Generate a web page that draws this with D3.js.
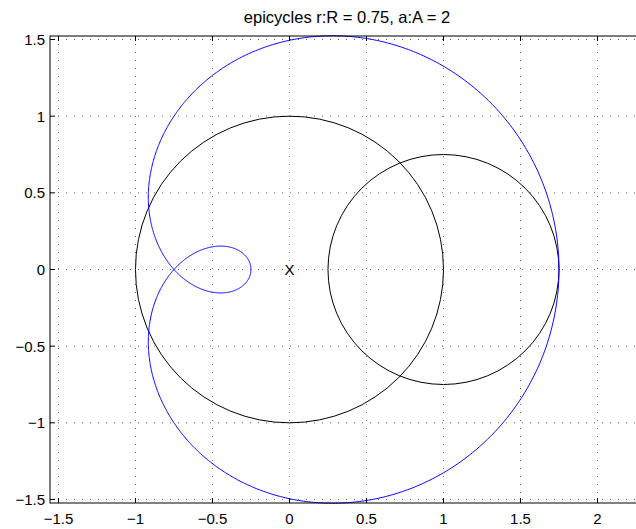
<!DOCTYPE html>
<html>
<head>
<meta charset="utf-8">
<script src="https://cdn.jsdelivr.net/npm/d3@7/dist/d3.min.js"></script>
<style>
  body { margin: 0; background: #fff; }
  svg { display: block; font-family: "Liberation Sans", Arial, sans-serif; }
</style>
</head>
<body>
<svg id="chart" width="636" height="529"></svg>
<script>
// epicycle parameters (from the title)
var bigR = 1, smallR = 0.75, freq = 2;

// black circles: centre x, centre y, radius
var circleX = [0, 1];
var circleY = [0, 0];
var circleRadius = [1, 0.75];

var xTicks = [-1.5, -1, -0.5, 0, 0.5, 1, 1.5, 2];
var yTicks = [-1.5, -1, -0.5, 0, 0.5, 1, 1.5];

var svg = d3.select("#chart"),
    margin = {top: 36, left: 50},
    width = 594,
    height = 467;

var x = d3.scaleLinear().domain([-1.555, 2.302]).range([0, width]);
var y = d3.scaleLinear().domain([-1.523, 1.523]).range([height, 0]);

var g = svg.append("g")
    .attr("transform", "translate(" + margin.left + "," + margin.top + ")");

function fmt(d) { return d < 0 ? "\u2212" + Math.abs(d) : "" + d; }

// dotted grid
g.selectAll(".gx").data(xTicks).enter().append("line")
    .attr("x1", function(d) { return x(d); }).attr("x2", function(d) { return x(d); })
    .attr("y1", 0).attr("y2", height)
    .attr("stroke", "#666").attr("stroke-width", 1)
    .attr("stroke-dasharray", "1,7");
g.selectAll(".gy").data(yTicks).enter().append("line")
    .attr("y1", function(d) { return y(d); }).attr("y2", function(d) { return y(d); })
    .attr("x1", 0).attr("x2", width)
    .attr("stroke", "#666").attr("stroke-width", 1)
    .attr("stroke-dasharray", "1,7");

// circles
g.selectAll(".circ").data(circleX).enter().append("ellipse")
    .attr("cx", function(d) { return x(d); })
    .attr("cy", function(d, i) { return y(circleY[i]); })
    .attr("rx", function(d, i) { return x(circleRadius[i]) - x(0); })
    .attr("ry", function(d, i) { return y(0) - y(circleRadius[i]); })
    .attr("fill", "none").attr("stroke", "#000").attr("stroke-width", 1);

// epicycle curve
var theta = d3.range(0, 2 * Math.PI + 0.005, 0.005);
var pts = theta.map(function(t) {
  return [bigR * Math.cos(t) + smallR * Math.cos(freq * t),
          bigR * Math.sin(t) + smallR * Math.sin(freq * t)];
});
g.append("path")
    .datum(pts)
    .attr("d", d3.line().x(function(d) { return x(d[0]); }).y(function(d) { return y(d[1]); }))
    .attr("fill", "none").attr("stroke", "#0000ff").attr("stroke-width", 1);

// centre marker
g.append("text")
    .attr("x", x(0)).attr("y", y(0))
    .attr("text-anchor", "middle").attr("dy", "0.36em")
    .attr("font-size", 15).text("X");

// axes box
g.append("rect")
    .attr("width", width).attr("height", height)
    .attr("fill", "none").attr("stroke", "#000").attr("stroke-width", 1);

// tick marks (inward) on all sides
var tl = 5;
xTicks.forEach(function(d) {
  g.append("line").attr("x1", x(d)).attr("x2", x(d)).attr("y1", height).attr("y2", height - tl).attr("stroke", "#000");
  g.append("line").attr("x1", x(d)).attr("x2", x(d)).attr("y1", 0).attr("y2", tl).attr("stroke", "#000");
});
yTicks.forEach(function(d) {
  g.append("line").attr("y1", y(d)).attr("y2", y(d)).attr("x1", 0).attr("x2", tl).attr("stroke", "#000");
  g.append("line").attr("y1", y(d)).attr("y2", y(d)).attr("x1", width).attr("x2", width - tl).attr("stroke", "#000");
});

// tick labels
g.selectAll(".xl").data(xTicks).enter().append("text")
    .attr("x", function(d) { return x(d); }).attr("y", height + 21)
    .attr("text-anchor", "middle").attr("font-size", 15)
    .text(fmt);
g.selectAll(".yl").data(yTicks).enter().append("text")
    .attr("x", -5).attr("y", function(d) { return y(d); })
    .attr("dy", "0.36em")
    .attr("text-anchor", "end").attr("font-size", 15)
    .text(fmt);

// title
svg.append("text")
    .attr("x", margin.left + width / 2).attr("y", 23)
    .attr("text-anchor", "middle").attr("font-size", 16.5)
    .text("epicycles r:R = 0.75, a:A = 2");
</script>
</body>
</html>
